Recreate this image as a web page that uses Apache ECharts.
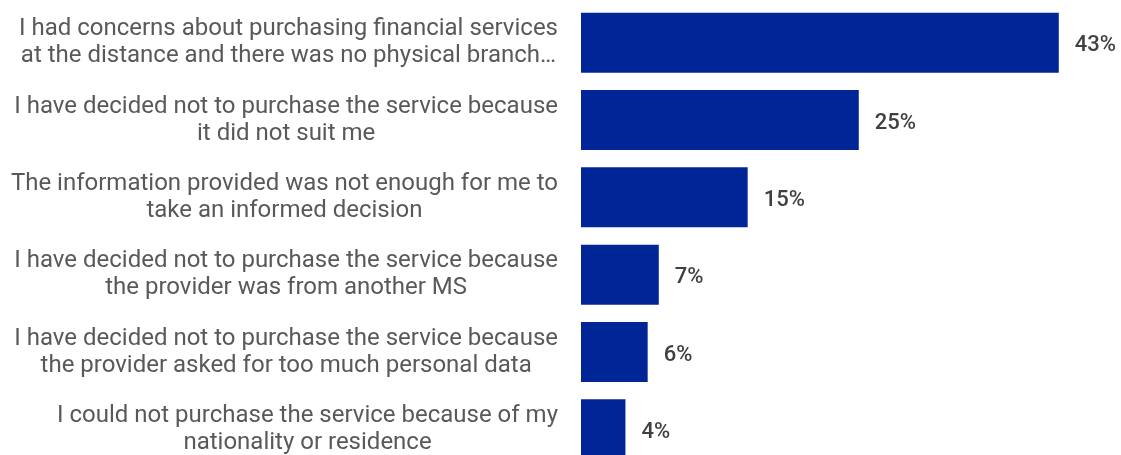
<!DOCTYPE html>
<html>
<head>
<meta charset="utf-8">
<style>
  html, body { margin: 0; padding: 0; background: #ffffff; }
  #chart { width: 1121px; height: 455px; }
</style>
<script src="https://cdn.jsdelivr.net/npm/echarts@6/dist/echarts.min.js"></script>
</head>
<body>
<div id="chart"></div>
<script>
// Reasons for not completing a purchase (share of respondents, %)
const reasons = [
  'I had concerns about purchasing financial services\nat the distance and there was no physical branch…',
  'I have decided not to purchase the service because\nit did not suit me',
  'The information provided was not enough for me to\ntake an informed decision',
  'I have decided not to purchase the service because\nthe provider was from another MS',
  'I have decided not to purchase the service because\nthe provider asked for too much personal data',
  'I could not purchase the service because of my\nnationality or residence'
];
const shares = [43, 25, 15, 7, 6, 4];

const FONT = 'Roboto';
const chart = echarts.init(document.getElementById('chart'));

chart.setOption({
  animation: false,
  grid: { left: 581, right: 40, top: 4, height: 464, outerBoundsMode: 'none' },
  xAxis: {
    type: 'value',
    min: 0,
    max: 45,
    show: false
  },
  yAxis: {
    type: 'category',
    data: reasons,
    inverse: true,
    axisLine: { show: false },
    axisTick: { show: false },
    axisLabel: {
      margin: 23,
      align: 'right',
      // each line centred inside the right-aligned label block
      formatter: v => v.split('\n').map(l => '{c|' + l + '}').join('\n'),
      rich: {
        c: {
          align: 'center',
          fontFamily: FONT,
          fontSize: 24,
          fontWeight: 400,
          lineHeight: 27,
          color: '#595959'
        }
      }
    }
  },
  series: [{
    type: 'bar',
    data: shares,
    barWidth: 60,
    itemStyle: { color: '#002596' },
    label: {
      show: true,
      position: 'right',
      distance: 16,
      offset: [0, 3],
      formatter: '{c}%',
      fontFamily: FONT,
      fontSize: 22,
      fontWeight: 500,
      color: '#404040'
    }
  }]
});
</script>
</body>
</html>
